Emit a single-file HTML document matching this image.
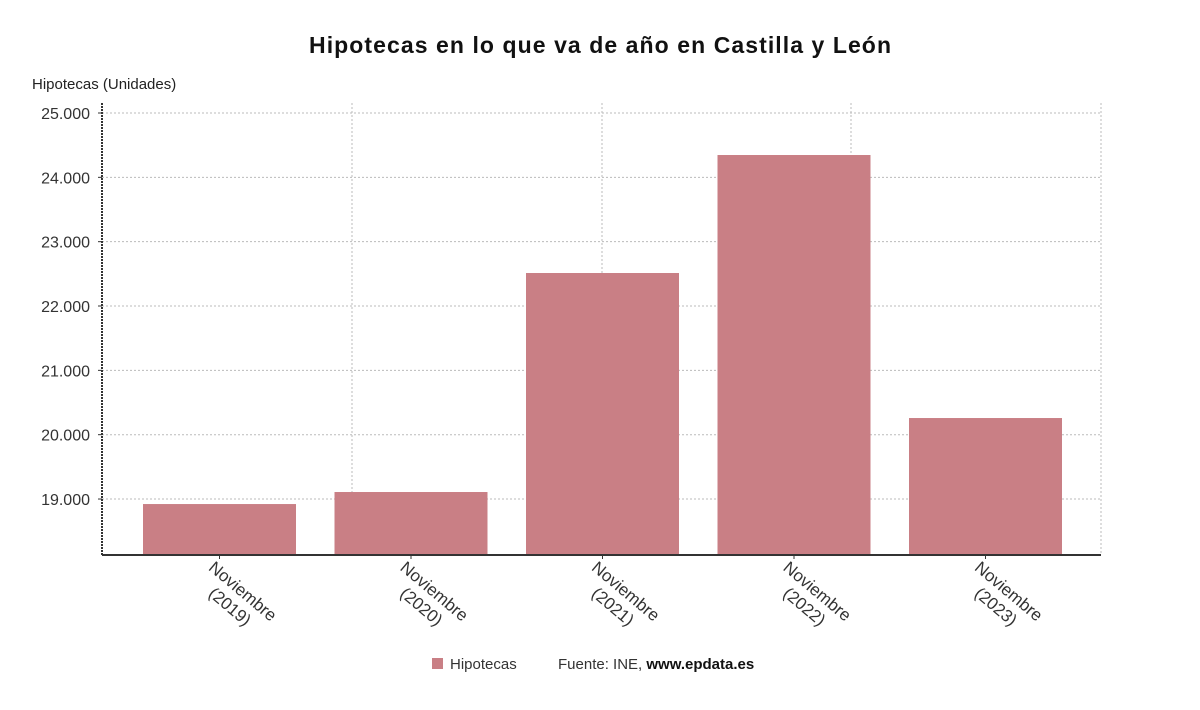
<!DOCTYPE html>
<html><head><meta charset="utf-8"><style>
body{margin:0;background:#fff;width:1200px;height:705px;overflow:hidden;font-family:"Liberation Sans","DejaVu Sans",sans-serif}
</style></head><body>
<svg id="chart" width="1200" height="705" xmlns="http://www.w3.org/2000/svg" font-family="'Liberation Sans','DejaVu Sans',sans-serif">
<text x="600" y="53" text-anchor="middle" font-size="23" font-weight="bold" fill="#111" textLength="582">Hipotecas en lo que va de año en Castilla y León</text>
<text x="32" y="89" font-size="15" fill="#222">Hipotecas (Unidades)</text>
<g id="grid"></g><g id="bars"></g><g id="axes"></g>
<g>
<rect x="432" y="658" width="11" height="11" fill="#c97f85"/>
<text x="450" y="669" font-size="15" fill="#333">Hipotecas</text>
<text x="558" y="669" font-size="15" fill="#333">Fuente: INE, <tspan font-weight="bold" fill="#111">www.epdata.es</tspan></text>
</g>
</svg>
<script>
const categories=["Noviembre (2019)","Noviembre (2020)","Noviembre (2021)","Noviembre (2022)","Noviembre (2023)"];
const values=[18922,19109,22513,24347,20259];
const yTicks=[19000,20000,21000,22000,23000,24000,25000];
const yTickLabels=["19.000","20.000","21.000","22.000","23.000","24.000","25.000"];
const yMin=18130,yMax=25000;
const NS="http://www.w3.org/2000/svg";
const pl=102,pr=1101,pt=103,pb=555,yTop=113;
function y(v){return pb-(v-yMin)/(yMax-yMin)*(pb-yTop);}
const bandStart=123.75,bandW=191.5;
function xc(i){return bandStart+bandW*(i+0.5);}
function mk(t,a,p){const e=document.createElementNS(NS,t);for(const k in a)e.setAttribute(k,a[k]);p.appendChild(e);return e;}
const grid=document.getElementById('grid'),bars=document.getElementById('bars'),axes=document.getElementById('axes');
yTicks.forEach((v,i)=>{
 const l=mk('line',{x1:pl,x2:pr,y1:y(v),y2:y(v),stroke:'#bbb','stroke-dasharray':'2,2'},grid);
 
 
 const t=mk('text',{x:90,y:y(v)+6,'text-anchor':'end','font-size':16,fill:'#333'},axes);
 t.textContent=yTickLabels[i];
 
 
 mk('line',{x1:pl-4,x2:pl,y1:y(v),y2:y(v),stroke:'#333'},axes);
});
[352,602,851,1101].forEach(x=>{
 const l=mk('line',{x1:x,x2:x,y1:pt,y2:pb,stroke:'#bbb','stroke-dasharray':'2,2'},grid);
 
 
});
values.forEach((v,i)=>{
 const r=mk('rect',{x:xc(i)-76.5,y:y(v),width:153,height:pb-y(v),fill:'#c97f85'},bars);
 
 
 mk('line',{x1:xc(i),x2:xc(i),y1:pb,y2:pb+4,stroke:'#333'},axes);
 const parts=categories[i].split(' ');
 const t=mk('text',{transform:`translate(${xc(i)-13},${pb+8}) rotate(40)`,'font-size':17,fill:'#333','text-anchor':'middle'},axes);
 
 
 mk('tspan',{x:46,dy:4},t).textContent=parts[0];
 mk('tspan',{x:46,dy:20},t).textContent=parts[1];
});
const ax=mk('line',{x1:pl,x2:pl,y1:pt,y2:pb,stroke:'#333','stroke-width':2,'stroke-dasharray':'2,1'},axes);


const bx=mk('line',{x1:pl,x2:pr,y1:pb,y2:pb,stroke:'#333','stroke-width':2},axes);


</script>
</body></html>
